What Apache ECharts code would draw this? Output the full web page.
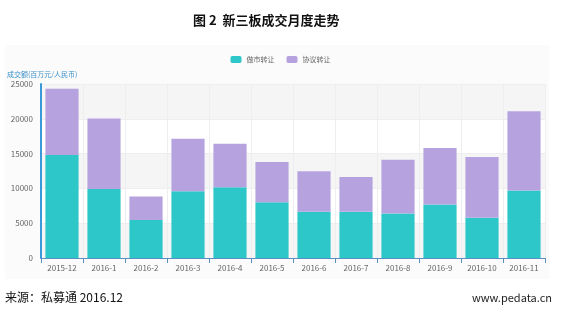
<!DOCTYPE html>
<html><head><meta charset="utf-8">
<script src="https://cdn.jsdelivr.net/npm/echarts@6/dist/echarts.min.js"></script>
<style>html,body{margin:0;padding:0;background:#fff;}#c{width:561px;height:317px;}</style>
</head><body><div id="c"></div>
<script>
const categories = ['2015-12','2016-1','2016-2','2016-3','2016-4','2016-5','2016-6','2016-7','2016-8','2016-9','2016-10','2016-11'];
const marketMaking = [14800, 9900, 5450, 9600, 10150, 8000, 6650, 6650, 6400, 7700, 5800, 9700];
const totals = [24300, 20050, 8850, 17150, 16400, 13800, 12450, 11650, 14100, 15800, 14500, 21100];
const agreement = totals.map((t, i) => t - marketMaking[i]);
const seriesNames = ['做市转让', '协议转让'];
const yTicks = [0, 5000, 10000, 15000, 20000, 25000];

const chart = echarts.init(document.getElementById('c'));
const font = '"Noto Sans CJK SC", "Noto Sans", sans-serif';
chart.setOption({
  animation: false,
  textStyle: { fontFamily: font },
  graphic: [
    { type: 'rect', shape: { x: 5, y: 45, width: 544, height: 234 }, style: { fill: '#fbfbfb' }, z: -10 },
    { type: 'text', left: 5, top: 291, style: { text: '来源：私募通 2016.12', font: '12px ' + font, fill: '#111' } },
    { type: 'text', right: 9, top: 292, style: { text: 'www.pedata.cn', font: '11px ' + font, fill: '#222' } }
  ],
  title: {
    text: '图 2  新三板成交月度走势', left: 188, top: 9,
    textStyle: { fontSize: 13, fontWeight: 'bold', color: '#111', fontFamily: font }
  },
  legend: {
    data: seriesNames, top: 51, left: 'center', itemWidth: 11, itemHeight: 7, itemGap: 12,
    textStyle: { fontSize: 7, color: '#666' }
  },
  grid: { left: 41, right: 16, top: 84, bottom: 59, containLabel: false },
  xAxis: {
    type: 'category', data: categories,
    axisLine: { lineStyle: { color: '#5b8fc0', width: 1 } },
    axisTick: { show: true, lineStyle: { color: '#5b8fc0' } },
    axisLabel: { fontSize: 8, color: '#666', margin: 6 },
    splitLine: { show: true, lineStyle: { color: '#eeeeee' } }
  },
  yAxis: {
    type: 'value', min: yTicks[0], max: yTicks[yTicks.length - 1], interval: 5000,
    name: '成交额(百万元/人民币)', nameLocation: 'end', nameGap: 6,
    nameTextStyle: { fontSize: 7, color: '#3a8fc9', align: 'left', padding: [0, 0, 0, -34] },
    axisLine: { show: true, lineStyle: { color: '#3a9ad9', width: 2 } },
    axisTick: { show: false },
    axisLabel: { fontSize: 8, color: '#666', margin: 8, formatter: v => String(v) },
    splitLine: { show: true, lineStyle: { color: '#eeeeee' } },
    splitArea: { show: true, areaStyle: { color: ['rgba(245,245,245,1)', 'rgba(255,255,255,1)'] } }
  },
  series: [
    { name: seriesNames[0], type: 'bar', stack: 'a', data: marketMaking, barCategoryGap: '21%', itemStyle: { color: '#2ec7c9' } },
    { name: seriesNames[1], type: 'bar', stack: 'a', data: agreement, barCategoryGap: '21%', itemStyle: { color: '#b6a2de' } }
  ]
});
</script></body></html>
